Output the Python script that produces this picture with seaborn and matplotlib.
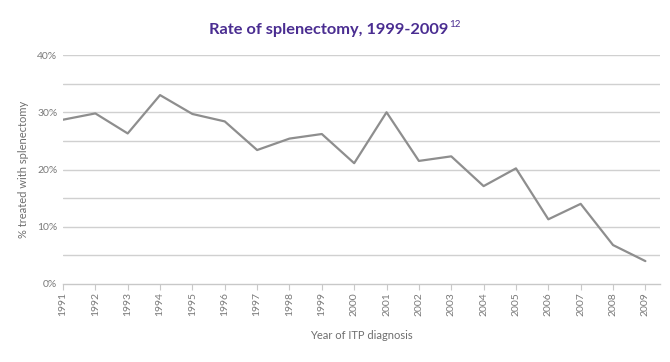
import matplotlib
matplotlib.use("Agg")
import matplotlib.pyplot as plt
import seaborn as sns
import pandas as pd

years = list(range(1991, 2010))
rates = [28.7, 29.8, 26.3, 33.0, 29.7, 28.4, 23.4, 25.4, 26.2, 21.1,
         30.0, 21.5, 22.3, 17.1, 20.2, 11.3, 14.0, 6.8, 4.0]
title = "Rate of splenectomy, 1999-2009"
title_sup = "12"
ylabel = "% treated with splenectomy"
xlabel = "Year of ITP diagnosis"

df = pd.DataFrame({"year": years, "rate": rates})

sns.set_theme(style="white")
plt.rcParams['font.family'] = ['Lato', 'DejaVu Sans']

fig = plt.figure(figsize=(6.7, 3.62), dpi=100)
ax = fig.add_axes([0.094, 0.2155, 0.891, 0.6325])

sns.lineplot(data=df, x="year", y="rate", ax=ax, color="#8e8e8e", linewidth=1.6)

ax.set_xlim(1991, 2009.45)
ax.set_ylim(0, 40)
ax.set_yticks([0, 10, 20, 30, 40])
ax.set_yticklabels([f"{v}%" for v in [0, 10, 20, 30, 40]], color="#7a7a7a", fontsize=7.5)
ax.set_xticks(years)
ax.set_xticklabels([str(y) for y in years], rotation=90, color="#7a7a7a", fontsize=7.5)

for v in [5, 10, 15, 20, 25, 30, 35, 40]:
    ax.axhline(v, color="#d0d0d0", linewidth=1.0, zorder=0)

for s in ["top", "right", "left"]:
    ax.spines[s].set_visible(False)
ax.spines["bottom"].set_color("#c8c8c8")
ax.spines["bottom"].set_linewidth(1.0)
ax.tick_params(axis="x", which="major", length=4, width=0.8, color="#c8c8c8", bottom=True, pad=2)
ax.tick_params(axis="y", which="major", length=0, pad=4)

ax.set_xlabel(xlabel, color="#6e6e6e", fontsize=8, labelpad=10)
ax.set_ylabel(ylabel, color="#6e6e6e", fontsize=8, labelpad=6)

# Title with superscript
ty = 1 - 34 / 362
t = fig.text(0.5, ty, title, color="#4a2d91", fontsize=11.8,
             fontweight="bold", ha="left", va="baseline")
fig.canvas.draw()
r = fig.canvas.get_renderer()
bb = t.get_window_extent(r)
s = fig.text(0, 1 - 27 / 362, title_sup, color="#4a2d91", fontsize=7, ha="left", va="baseline")
bs = s.get_window_extent(r)
gap = 0.5
total = bb.width + gap + bs.width
x_start = (335 - total / 2) / 670
t.set_position((x_start, ty))
s.set_position((x_start + (bb.width + gap) / 670, 1 - 27 / 362))

fig.savefig("out.png", dpi=100)
